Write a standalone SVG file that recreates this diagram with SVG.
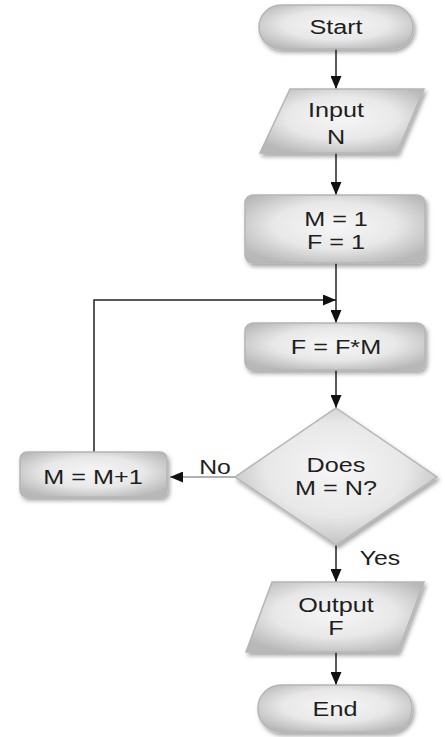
<svg xmlns="http://www.w3.org/2000/svg" width="445" height="737" viewBox="0 0 445 737">
<defs>
<radialGradient id="g" cx="0.5" cy="0.45" r="0.62">
<stop offset="0" stop-color="#f6f6f6"/>
<stop offset="0.55" stop-color="#e8e8e8"/>
<stop offset="1" stop-color="#b8b8b8"/>
</radialGradient>
<filter id="sh" x="-20%" y="-20%" width="140%" height="150%">
<feDropShadow dx="2" dy="3" stdDeviation="2" flood-color="#000" flood-opacity="0.35"/>
</filter>
<marker id="ah" markerWidth="13" markerHeight="11" refX="13" refY="5.5" orient="auto" markerUnits="userSpaceOnUse">
<path d="M0,0 L13,5.5 L0,11 Z" fill="#111"/>
</marker>
</defs>
<style>
.s{fill:url(#g);stroke:#b5b5b5;stroke-width:1.5;filter:url(#sh)}
.t{font-family:"Liberation Sans",Arial,sans-serif;font-size:21px;fill:#1e1e1e;text-anchor:middle}
.c{fill:none;stroke:#222;stroke-width:1.5}
</style>
<rect width="445" height="737" fill="#fff"/>
<g id="connectors">
<line class="c" x1="336" y1="49" x2="336" y2="89" marker-end="url(#ah)"/>
<line class="c" x1="336" y1="153" x2="336" y2="195" marker-end="url(#ah)"/>
<line class="c" x1="336" y1="263" x2="336" y2="323" marker-end="url(#ah)"/>
<polyline class="c" points="94,452 94,300 336,300" marker-end="url(#ah)"/>
<line class="c" x1="336" y1="370" x2="336" y2="408" marker-end="url(#ah)"/>
<line class="c" x1="235" y1="477" x2="170" y2="477" marker-end="url(#ah)" style="stroke:#999"/>
<line class="c" x1="336" y1="545" x2="336" y2="582" marker-end="url(#ah)"/>
<line class="c" x1="336" y1="652" x2="336" y2="685" marker-end="url(#ah)"/>
<text class="t" transform="matrix(1.18 0 0 1 215 0)" x="0" y="474">No</text>
<text class="t" transform="matrix(1.18 0 0 1 380 0)" x="0" y="565">Yes</text>
</g>
<g id="start">
<rect class="s" x="259" y="5" width="154" height="44" rx="22"/>
<text class="t" transform="matrix(1.2 0 0 1 336 0)" x="0" y="34">Start</text>
</g>
<g id="input">
<polygon class="s" points="290,89 424,89 397,153 260,153"/>
<text class="t" transform="matrix(1.2 0 0 1 336 0)" x="0" y="117">Input</text>
<text class="t" transform="matrix(1.2 0 0 1 336 0)" x="0" y="144">N</text>
</g>
<g id="init">
<rect class="s" x="245" y="195" width="180" height="68" rx="8"/>
<text class="t" transform="matrix(1.2 0 0 1 336 0)" x="0" y="226">M = 1</text>
<text class="t" transform="matrix(1.2 0 0 1 336 0)" x="0" y="249">F = 1</text>
</g>
<g id="mult">
<rect class="s" x="245" y="323" width="180" height="47" rx="8"/>
<text class="t" transform="matrix(1.2 0 0 1 336 0)" x="0" y="354">F = F*M</text>
</g>
<g id="decision">
<polygon class="s" points="336,408 437,477 336,545 235,477"/>
<text class="t" transform="matrix(1.2 0 0 1 336 0)" x="0" y="472">Does</text>
<text class="t" transform="matrix(1.2 0 0 1 336 0)" x="0" y="495">M = N?</text>
</g>
<g id="incr">
<rect class="s" x="20" y="452" width="147" height="45" rx="7"/>
<text class="t" transform="matrix(1.2 0 0 1 93 0)" x="0" y="484">M = M+1</text>
</g>
<g id="output">
<polygon class="s" points="272,582 424,582 398,652 246,652"/>
<text class="t" transform="matrix(1.2 0 0 1 336 0)" x="0" y="612">Output</text>
<text class="t" transform="matrix(1.2 0 0 1 336 0)" x="0" y="635">F</text>
</g>
<g id="end">
<rect class="s" x="258" y="685" width="154" height="47" rx="23"/>
<text class="t" transform="matrix(1.2 0 0 1 335 0)" x="0" y="716">End</text>
</g>
</svg>
